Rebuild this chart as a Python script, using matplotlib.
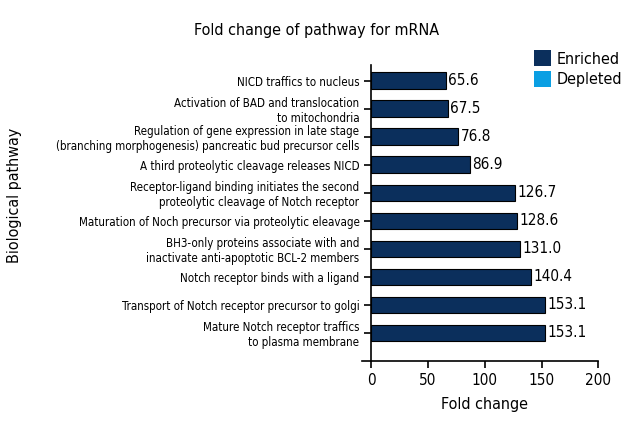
import matplotlib
matplotlib.use("Agg")
import matplotlib.pyplot as plt
from matplotlib import font_manager
from matplotlib.patches import Patch

# ============================
# data (bottom -> top)
# ============================
pathways = [
    "Mature Notch receptor traffics\nto plasma membrane",
    "Transport of Notch receptor precursor to golgi",
    "Notch receptor binds with a ligand",
    "BH3-only proteins associate with and\ninactivate anti-apoptotic BCL-2 members",
    "Maturation of Noch precursor via proteolytic eleavage",
    "Receptor-ligand binding initiates the second\nproteolytic cleavage of Notch receptor",
    "A third proteolytic cleavage releases NICD",
    "Regulation of gene expression in late stage\n(branching morphogenesis) pancreatic bud precursor cells",
    "Activation of BAD and translocation\nto mitochondria",
    "NICD traffics to nucleus",
]
fold_change = [153.1, 153.1, 140.4, 131.0, 128.6, 126.7, 86.9, 76.8, 67.5, 65.6]
xticks = [0, 50, 100, 150, 200]

enriched_color = "#0b2f5c"
depleted_color = "#0a9fe3"

# pick a narrow font if one is there
names = {f.name for f in font_manager.fontManager.ttflist}
if "Liberation Sans Narrow" in names:
    plt.rcParams["font.family"] = ["Liberation Sans Narrow", "DejaVu Sans"]
else:
    plt.rcParams["font.family"] = ["DejaVu Sans"]
    plt.rcParams["font.stretch"] = "condensed"

fig = plt.figure(figsize=(6.4, 4.4), dpi=100)
ax = fig.add_axes([0.58, 0.18, 0.355, 0.672])

ypos = list(range(len(pathways)))
ax.barh(ypos, fold_change, height=0.58, color=enriched_color,
        edgecolor="black", linewidth=0.8, zorder=3)
for y, v in zip(ypos, fold_change):
    ax.text(v + 2, y, f"{v:.1f}", va="center", ha="left", fontsize=11)

ax.set_xlim(0, 200)
ax.set_ylim(-1, 9.55)
ax.set_xticks(xticks)
ax.set_xticklabels([str(t) for t in xticks], fontsize=11)
ax.set_yticks(ypos)
ax.set_yticklabels(pathways, fontsize=8.3, linespacing=1.15)
ax.tick_params(axis="both", length=5, width=1.2, direction="out")
ax.tick_params(axis="x", pad=4)

ax.spines["top"].set_visible(False)
ax.spines["right"].set_visible(False)
ax.spines["left"].set_linewidth(1.2)
ax.spines["bottom"].set_linewidth(1.2)
ax.spines["bottom"].set_bounds(-8, 200)

ax.set_xlabel("Fold change", fontsize=11.5, labelpad=6)
fig.text(0.022, 0.555, "Biological pathway", rotation=90, va="center",
         ha="center", fontsize=11.5)
fig.text(0.495, 0.93, "Fold change of pathway for mRNA", ha="center",
         va="center", fontsize=11.5)

handles = [Patch(facecolor=enriched_color, label="Enriched"),
           Patch(facecolor=depleted_color, label="Depleted")]
fig.legend(handles=handles, loc="upper left", bbox_to_anchor=(0.824, 0.9),
           frameon=False, fontsize=11.5, handlelength=1.05, handleheight=1.15,
           handletextpad=0.4, labelspacing=0.25, borderaxespad=0)

fig.savefig("out.png", dpi=100)
